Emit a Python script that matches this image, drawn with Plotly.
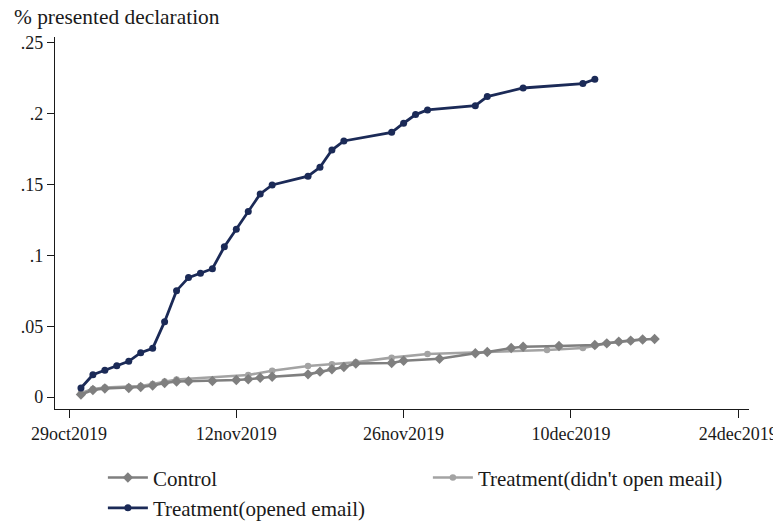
import plotly.graph_objects as go

# Cumulative share of firms that presented their declaration, by group
opened_dates = [
    "2019-10-30", "2019-10-31", "2019-11-01", "2019-11-02", "2019-11-03", "2019-11-04",
    "2019-11-05", "2019-11-06", "2019-11-07", "2019-11-08", "2019-11-09", "2019-11-10",
    "2019-11-11", "2019-11-12", "2019-11-13", "2019-11-14", "2019-11-15", "2019-11-18",
    "2019-11-19", "2019-11-20", "2019-11-21", "2019-11-25", "2019-11-26", "2019-11-27",
    "2019-11-28", "2019-12-02", "2019-12-03", "2019-12-06", "2019-12-11", "2019-12-12",
]
opened_vals = [
    0.0064, 0.0157, 0.0189, 0.0221, 0.0252, 0.0313,
    0.0344, 0.0532, 0.0751, 0.0843, 0.0874, 0.0906,
    0.1061, 0.1184, 0.1309, 0.1434, 0.1497, 0.1559,
    0.1622, 0.1744, 0.1808, 0.1869, 0.1933, 0.1994,
    0.2027, 0.2057, 0.2121, 0.2182, 0.2213, 0.2244,
]

control_dates = [
    "2019-10-30", "2019-10-31", "2019-11-01", "2019-11-03", "2019-11-04", "2019-11-05",
    "2019-11-06", "2019-11-07", "2019-11-08", "2019-11-10", "2019-11-12", "2019-11-13",
    "2019-11-14", "2019-11-15", "2019-11-18", "2019-11-19", "2019-11-20", "2019-11-21",
    "2019-11-22", "2019-11-25", "2019-11-26", "2019-11-29", "2019-12-02", "2019-12-03",
    "2019-12-05", "2019-12-06", "2019-12-09", "2019-12-12", "2019-12-13", "2019-12-14",
    "2019-12-15", "2019-12-16", "2019-12-17",
]
control_vals = [
    0.0018, 0.0049, 0.0060, 0.0064, 0.0071, 0.0081,
    0.0099, 0.0109, 0.0111, 0.0113, 0.0120, 0.0125,
    0.0136, 0.0143, 0.0160, 0.0179, 0.0196, 0.0212,
    0.0237, 0.0240, 0.0256, 0.0270, 0.0309, 0.0318,
    0.0346, 0.0355, 0.0360, 0.0367, 0.0379, 0.0391,
    0.0398, 0.0406, 0.0410,
]

notopened_dates = [
    "2019-10-30", "2019-10-31", "2019-11-01", "2019-11-03", "2019-11-04", "2019-11-05",
    "2019-11-06", "2019-11-07", "2019-11-13", "2019-11-15", "2019-11-18", "2019-11-20",
    "2019-11-22", "2019-11-25", "2019-11-28", "2019-12-03", "2019-12-08", "2019-12-11",
    "2019-12-12", "2019-12-13", "2019-12-14", "2019-12-15", "2019-12-16",
]
notopened_vals = [
    0.0028, 0.0056, 0.0067, 0.0071, 0.0078, 0.0092,
    0.0109, 0.0124, 0.0155, 0.0186, 0.0219, 0.0231,
    0.0245, 0.0278, 0.0304, 0.0318, 0.0332, 0.0346,
    0.0364, 0.0378, 0.0392, 0.0399, 0.0406,
]

x_tickvals = ["2019-10-29", "2019-11-12", "2019-11-26", "2019-12-10", "2019-12-24"]
x_ticktext = ["29oct2019", "12nov2019", "26nov2019", "10dec2019", "24dec2019"]
y_tickvals = [0, 0.05, 0.10, 0.15, 0.20, 0.25]
y_ticktext = ["0", ".05", ".1", ".15", ".2", ".25"]

NAVY = "#1b2a57"
CONTROL_GRAY = "#7f7f7f"
LIGHT_GRAY = "#a3a3a3"
INK = "#1a1a1a"
FONT = "Liberation Serif"

fig = go.Figure()

fig.add_trace(go.Scatter(
    x=notopened_dates, y=notopened_vals, mode="lines+markers",
    name="Treatment(didn't open meail)", legendrank=2,
    line=dict(color=LIGHT_GRAY, width=2.6),
    marker=dict(symbol="circle", size=6.5, color=LIGHT_GRAY),
))
fig.add_trace(go.Scatter(
    x=control_dates, y=control_vals, mode="lines+markers",
    name="Control", legendrank=1,
    line=dict(color=CONTROL_GRAY, width=2.6),
    marker=dict(symbol="diamond", size=8, color=CONTROL_GRAY),
))
fig.add_trace(go.Scatter(
    x=opened_dates, y=opened_vals, mode="lines+markers",
    name="Treatment(opened email)", legendrank=3,
    line=dict(color=NAVY, width=2.8),
    marker=dict(symbol="circle", size=7, color=NAVY),
))

fig.update_layout(
    width=773, height=524,
    margin=dict(l=55, r=24, t=37, b=115, autoexpand=False),
    paper_bgcolor="white", plot_bgcolor="white",
    font=dict(family=FONT, size=18, color=INK),
    showlegend=True,
    legend=dict(
        orientation="h", x=0.069, xanchor="left", y=-0.13, yanchor="top",
        font=dict(family=FONT, size=21, color=INK),
        entrywidth=270, entrywidthmode="pixels",
        itemwidth=40, tracegroupgap=0, traceorder="normal",
        bgcolor="rgba(0,0,0,0)",
    ),
    annotations=[dict(
        text="% presented declaration", xref="paper", yref="paper",
        x=-43 / 694, y=1 + 20 / 372, xanchor="left", yanchor="middle",
        showarrow=False, font=dict(family=FONT, size=21.4, color=INK),
    )],
)

fig.update_xaxes(
    type="date",
    range=["2019-10-27 19:53", "2019-12-24 21:36"],
    tickvals=x_tickvals, ticktext=x_ticktext,
    showgrid=False, zeroline=False,
    showline=True, linecolor=INK, linewidth=1.3,
    ticks="outside", ticklen=8, tickwidth=1.3, tickcolor=INK,
    ticklabeloverflow="allow",
    tickfont=dict(family=FONT, size=18, color=INK),
)
fig.update_yaxes(
    range=[-0.00847, 0.2542],
    tickvals=y_tickvals, ticktext=y_ticktext,
    showgrid=False, zeroline=False,
    showline=True, linecolor=INK, linewidth=1.3,
    ticks="outside", ticklen=7, tickwidth=1.3, tickcolor=INK,
    tickfont=dict(family=FONT, size=18, color=INK),
)

fig.write_html("out.html")
